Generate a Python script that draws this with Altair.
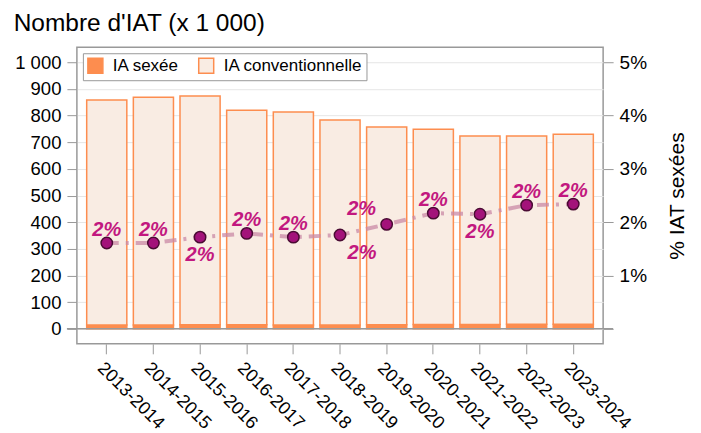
import altair as alt
import pandas as pd

periods = ["2013-2014", "2014-2015", "2015-2016", "2016-2017", "2017-2018", "2018-2019",
           "2019-2020", "2020-2021", "2021-2022", "2022-2023", "2023-2024"]
ia_sexee = [14, 14, 15, 15, 14, 14, 15, 16, 16, 17, 17]
ia_conv = [844, 855, 858, 805, 799, 769, 742, 733, 707, 706, 713]
pct_sexee = [1.61, 1.61, 1.72, 1.79, 1.72, 1.76, 1.96, 2.17, 2.15, 2.32, 2.34]
label_pos = ["above", "above", "below", "above", "above", "below_right",
             "above_left", "above", "below", "above", "above"]
series = ["IA sexée", "IA conventionnelle"]
left_ticks = [0, 100, 200, 300, 400, 500, 600, 700, 800, 900, 1000]
right_ticks = [0, 1, 2, 3, 4, 5]

FONT = "Liberation Sans"
ORANGE = "#fd8d4f"
LIGHT = "#f9ece3"
MAGENTA = "#c2187f"

bars_df = pd.DataFrame(
    [{"periode": p, "type": series[0], "val": s, "ord": 0} for p, s in zip(periods, ia_sexee)]
    + [{"periode": p, "type": series[1], "val": c, "ord": 1} for p, c in zip(periods, ia_conv)]
)
pct_df = pd.DataFrame({"periode": periods, "pct": pct_sexee, "pos": label_pos})

W, H = 527, 297
x_enc = alt.X("periode:N", sort=periods,
              scale=alt.Scale(paddingInner=0.14, paddingOuter=0.21),
              axis=alt.Axis(title=None, labelAngle=45, labelAlign="left", labelBaseline="top",
                            labelFontSize=18, labelColor="black", labelPadding=5,
                            tickSize=10, tickColor="#999", domain=False, labelFont=FONT))

left_scale = alt.Scale(domain=[-56.2, 1056.2], nice=False, zero=False)
left_axis = alt.Axis(title=None, values=left_ticks,
                     labelExpr="replace(format(datum.value, ','), ',', ' ')",
                     labelFontSize=18.5, labelColor="black", labelFont=FONT,
                     labelOverlap=False,
                     tickSize=10, tickColor="#999", domain=False,
                     grid=True, gridColor="#e6e6e6", gridWidth=1, labelPadding=6)
bars = alt.Chart(bars_df).mark_bar(stroke=ORANGE, strokeWidth=1.5).encode(
    x=x_enc,
    y=alt.Y("val:Q", stack="zero", scale=left_scale, axis=left_axis),
    fill=alt.Fill("type:N", scale=alt.Scale(domain=series, range=[ORANGE, LIGHT]),
                  legend=alt.Legend(title=None, orient="top-left", direction="horizontal",
                                    offset=6, strokeColor="#999", fillColor="white",
                                    padding=4, labelFontSize=17, labelFont=FONT,
                                    labelColor="black", symbolType="square", symbolSize=225,
                                    symbolStrokeColor=ORANGE, symbolStrokeWidth=1.5,
                                    columnPadding=16, labelOffset=9, labelLimit=300)),
    order=alt.Order("ord:Q"),
)
zero_rule = alt.Chart(pd.DataFrame({"z": [0]})).mark_rule(color="#999", strokeWidth=1.5).encode(
    y=alt.Y("z:Q", scale=left_scale, axis=left_axis),
    x=alt.value(-10), x2=alt.value(W + 10),
)
left = alt.layer(bars, zero_rule)

right_scale = alt.Scale(domain=[-0.281, 5.281], nice=False, zero=False)
y_right = alt.Y("pct:Q", scale=right_scale,
                axis=alt.Axis(orient="right", title="% IAT sexées", values=right_ticks,
                              labelExpr="datum.value == 0 ? '' : datum.value + '%'",
                              labelFontSize=19, labelColor="black", labelFont=FONT,
                              labelOverlap=False,
                              tickSize=10, tickColor="#999", domain=False, grid=False,
                              labelPadding=6, titleFontSize=21, titleFontWeight="normal",
                              titleColor="black", titleFont=FONT, titleAngle=270,
                              titleBaseline="top", titlePadding=20))
base = alt.Chart(pct_df).encode(x=alt.X("periode:N", sort=periods), y=y_right)
line = base.mark_line(color="#c98aa5", strokeWidth=4, opacity=0.75, strokeDash=[12, 7, 3, 7])
points = base.mark_circle(size=130, fill="#a3127a", stroke="#4a0b33", strokeWidth=1.5, opacity=1)

def labels(pos, dx, dy):
    return base.transform_filter(alt.datum.pos == pos).transform_calculate(
        lab="format(datum.pct, '.0f') + '%'"
    ).mark_text(font=FONT, fontSize=20, fontWeight="bold", fontStyle="italic",
                color=MAGENTA, dx=dx, dy=dy, baseline="middle").encode(text="lab:N")

right = alt.layer(
    line, points,
    labels("above", 0, -13), labels("below", 0, 18),
    labels("below_right", 22, 18), labels("above_left", -25, -15),
)

chart = alt.layer(left, right).resolve_scale(y="independent").properties(
    width=W, height=H,
    title=alt.Title("Nombre d'IAT (x 1 000)", anchor="start", frame="bounds",
                    fontSize=24.5, fontWeight="normal", font=FONT, color="black",
                    offset=11, dx=-1),
    padding={"left": 5, "top": 2, "right": 5, "bottom": 5},
).configure_view(stroke="#999", strokeWidth=1.5).configure_axis(labelOverlap=False)

chart.save("out.html", embed_options={"renderer": "svg", "actions": False})
